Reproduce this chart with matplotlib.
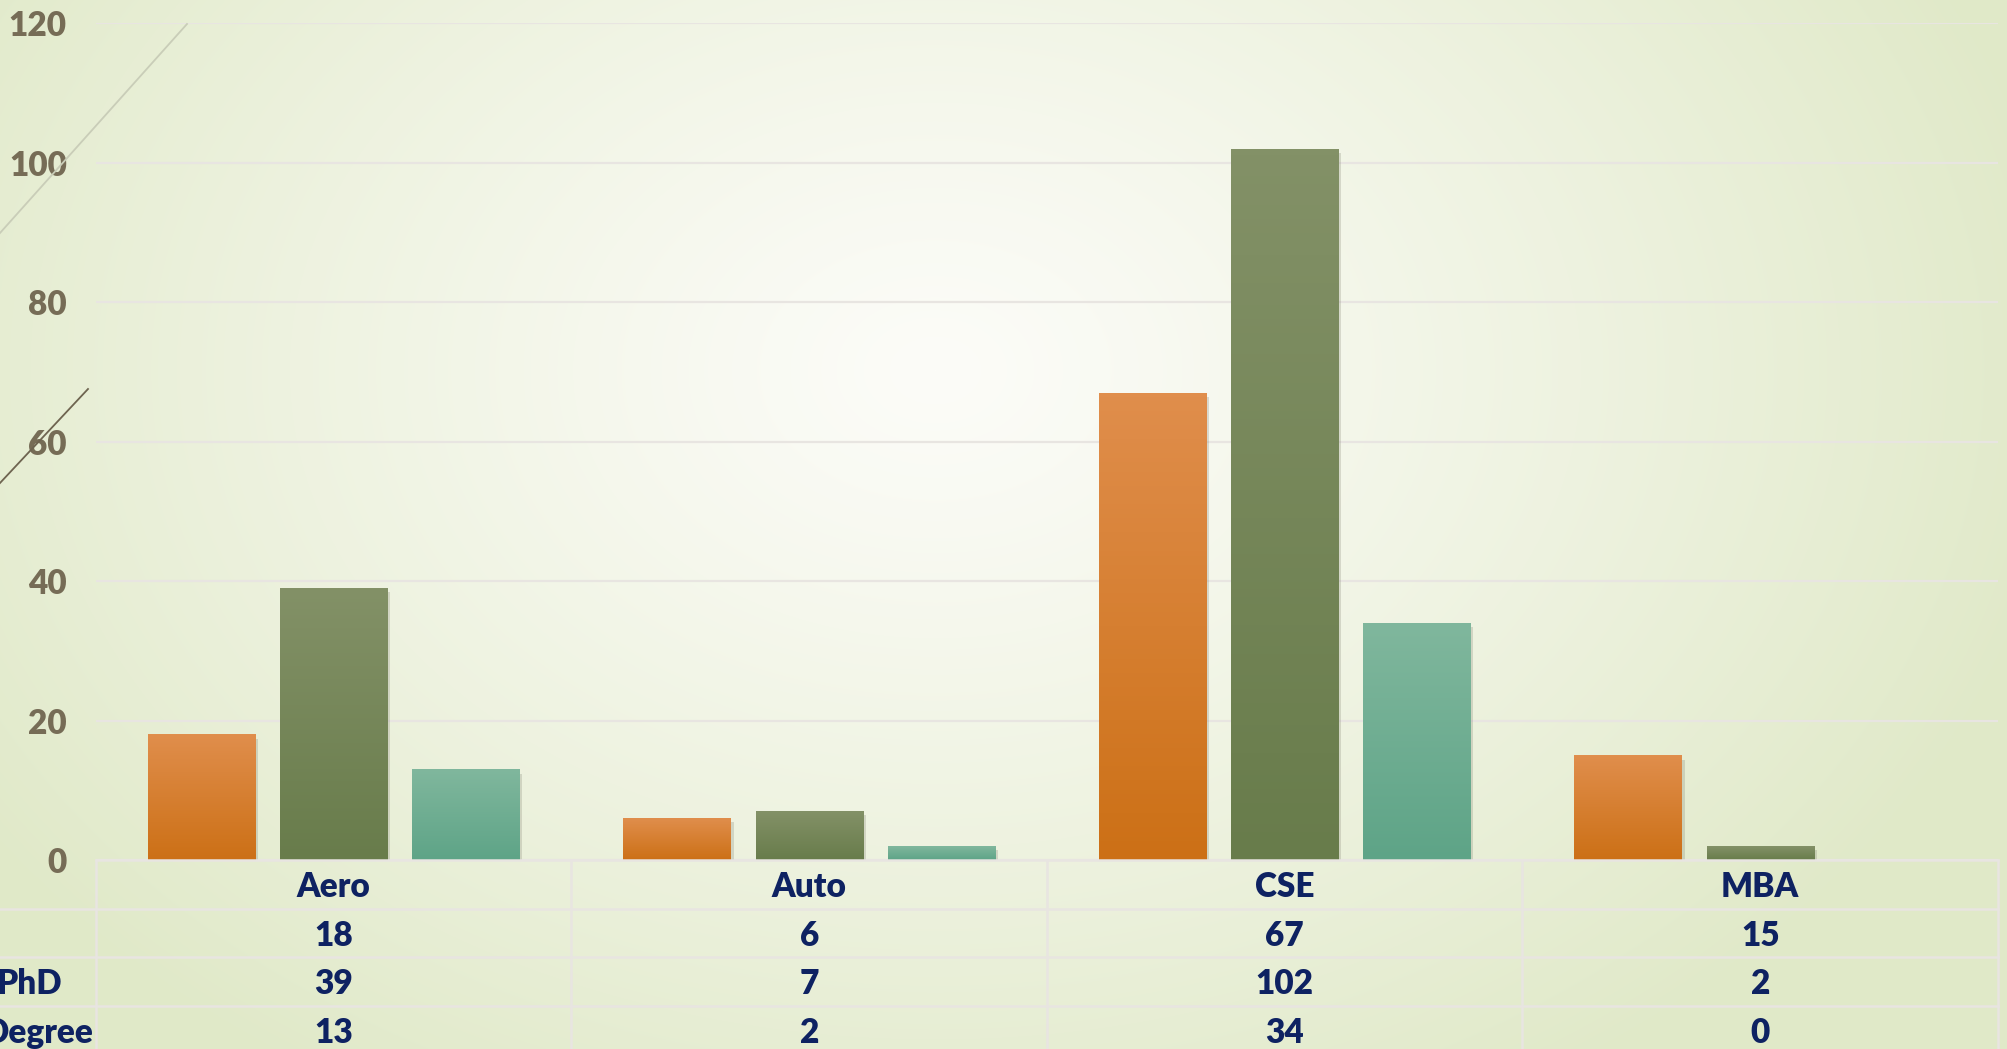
import numpy as np
import matplotlib
matplotlib.use("Agg")
import matplotlib.pyplot as plt
from matplotlib import patheffects
from matplotlib.lines import Line2D
from matplotlib.colors import to_rgb

categories = ["Aero", "Auto", "CSE", "MBA"]
row_labels = ["", "PhD", "Degree"]
series1 = [18, 6, 67, 15]
series2 = [39, 7, 102, 2]
series3 = [13, 2, 34, 0]
yticks = [0, 20, 40, 60, 80, 100, 120]

plt.rcParams['font.family'] = ['Lato', 'DejaVu Sans']
plt.rcParams['font.weight'] = 'heavy'

W, H = 2008, 1049
fig = plt.figure(figsize=(W / 100, H / 100), dpi=100)

# slide background: soft radial gradient, white centre -> pale green
bg = fig.add_axes([0, 0, 1, 1], zorder=-10)
yy, xx = np.mgrid[0:H, 0:W]
d = np.sqrt(((xx - 935) / 1150.) ** 2 + ((yy - 370) / 850.) ** 2)
d = np.clip(d, 0, 1) ** 1.2
c0 = np.array([252, 252, 248]) / 255.
c1 = np.array([224, 233, 200]) / 255.
bg.imshow(c0 + (c1 - c0) * d[..., None], extent=[0, 1, 0, 1], aspect='auto', origin='upper')
bg.axis('off')

# theme decoration lines top-left
fig.add_artist(Line2D([0, 187 / W], [1 - 233 / H, 1 - 24 / H], transform=fig.transFigure,
                      color='#C9CDB8', lw=1.3))
fig.add_artist(Line2D([0, 88 / W], [1 - 483 / H, 1 - 389 / H], transform=fig.transFigure,
                      color='#6E6450', lw=1.3))

left = 96 / W
width = (1998 - 96) / W
y0 = 860.0
ytop = 23.3
ax = fig.add_axes([left, 1 - y0 / H, width, (y0 - ytop) / H])
ax.patch.set_alpha(0)

colors = [('#E08E4C', '#CC7016'), ('#839167', '#687C4B'), ('#80B79D', '#5EA487')]
x = np.arange(len(categories))
offsets = [-0.278, 0, 0.278]
bw = 0.226
for vals, off, (ctop, cbot) in zip([series1, series2, series3], offsets, colors):
    bars = ax.bar(x + off, vals, bw, color=cbot, zorder=3)
    for rect in bars:
        h = rect.get_height()
        if h <= 0:
            continue
        rect.set_path_effects([patheffects.SimplePatchShadow(offset=(2, -3), shadow_rgbFace='#808070', alpha=0.25),
                               patheffects.Normal()])
        t = np.linspace(0, 1, 100)[:, None, None]
        grad = np.array(to_rgb(ctop))[None, None, :] * (1 - t) + np.array(to_rgb(cbot))[None, None, :] * t
        x0 = rect.get_x()
        im = ax.imshow(grad, extent=[x0, x0 + rect.get_width(), 0, h], aspect='auto',
                       origin='upper', zorder=3.5)
        im.set_clip_path(rect)

ax.set_xlim(-0.5, 3.5)
ax.set_ylim(0, 120)
ax.set_yticks(yticks)
ax.set_xticks([])
ax.yaxis.grid(True, color='#E8E5E1', lw=1.6)
ax.set_axisbelow(True)
ax.tick_params(axis='y', length=0, pad=21, labelsize=24, labelcolor='#766C56')
for s in ax.spines.values():
    s.set_visible(False)

# data table under the chart
rh = 48.5
tax = fig.add_axes([left, 1 - (y0 + 4 * rh) / H, width, 4 * rh / H])
tax.patch.set_alpha(0)
tax.set_xlim(-0.5, 3.5)
tax.set_ylim(4, 0)
tax.axis('off')
lc = '#E8E5E1'
tax.plot([-0.5, 3.5], [0, 0], color=lc, lw=1.8, clip_on=False)
for r in [1, 2, 3, 4]:
    tax.plot([-1.0, 3.5], [r, r], color=lc, lw=1.8, clip_on=False)
for xv in [-0.5, 0.5, 1.5, 2.5, 3.5]:
    tax.plot([xv, xv], [0, 4], color=lc, lw=1.8, clip_on=False)

tc = '#0E2262'
fs = 24
for i, cat in enumerate(categories):
    tax.text(i, 0.56, cat, ha='center', va='center', fontsize=fs, color=tc)
for r, vals in enumerate([series1, series2, series3], start=1):
    for i, v in enumerate(vals):
        tax.text(i, r + 0.56, str(v), ha='center', va='center', fontsize=fs, color=tc)
label_x = [-0.58, -0.57, -0.505]
for r, (lab, lx) in enumerate(zip(row_labels, label_x), start=1):
    if lab:
        tax.text(lx, r + 0.56, lab, ha='right', va='center', fontsize=fs, color=tc, clip_on=False)

fig.savefig('out.png', dpi=100)
